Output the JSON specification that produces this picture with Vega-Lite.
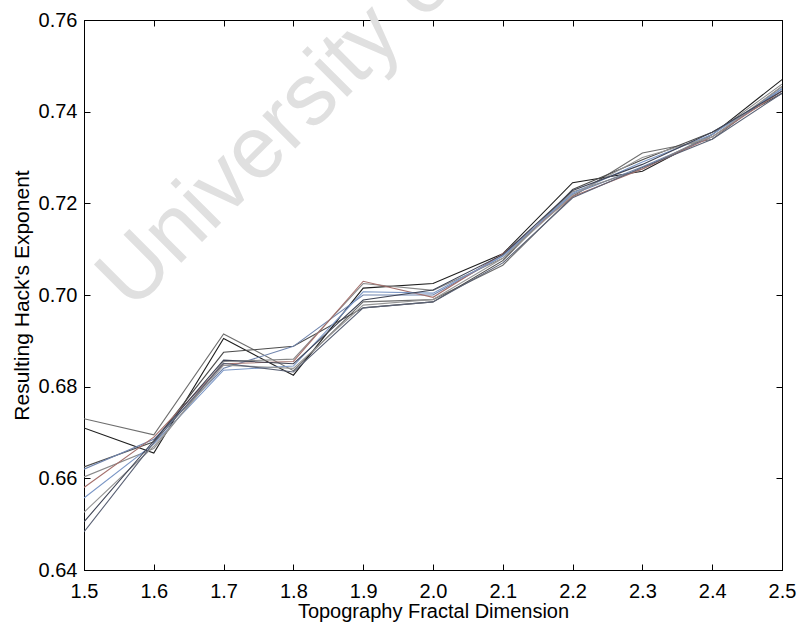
{
  "$schema": "https://vega.github.io/schema/vega-lite/v6.json",
  "width": 698,
  "height": 550,
  "autosize": "none",
  "padding": {"left": 84, "top": 20, "right": 16, "bottom": 59},
  "background": "white",
  "config": {
    "view": {"stroke": "black", "strokeWidth": 1},
    "font": "Liberation Sans",
    "axis": {
      "domainColor": "black",
      "tickColor": "black",
      "labelColor": "black",
      "titleColor": "black",
      "grid": false,
      "labelFont": "Liberation Sans",
      "titleFont": "Liberation Sans",
      "labelFontSize": 20,
      "titleFontWeight": "normal",
      "labelFlush": false,
      "tickSize": -6
    }
  },
  "datasets": {
    "runs": [
      {"run": "r1", "d": 1.5, "h": 0.673}, {"run": "r1", "d": 1.6, "h": 0.6695}, {"run": "r1", "d": 1.7, "h": 0.6915}, {"run": "r1", "d": 1.8, "h": 0.6835}, {"run": "r1", "d": 1.9, "h": 0.6985}, {"run": "r1", "d": 2.0, "h": 0.699}, {"run": "r1", "d": 2.1, "h": 0.7065}, {"run": "r1", "d": 2.2, "h": 0.7215}, {"run": "r1", "d": 2.3, "h": 0.731}, {"run": "r1", "d": 2.4, "h": 0.734}, {"run": "r1", "d": 2.5, "h": 0.7455},
      {"run": "r2", "d": 1.5, "h": 0.671}, {"run": "r2", "d": 1.6, "h": 0.6655}, {"run": "r2", "d": 1.7, "h": 0.6905}, {"run": "r2", "d": 1.8, "h": 0.6825}, {"run": "r2", "d": 1.9, "h": 0.7015}, {"run": "r2", "d": 2.0, "h": 0.7025}, {"run": "r2", "d": 2.1, "h": 0.709}, {"run": "r2", "d": 2.2, "h": 0.7245}, {"run": "r2", "d": 2.3, "h": 0.727}, {"run": "r2", "d": 2.4, "h": 0.735}, {"run": "r2", "d": 2.5, "h": 0.747},
      {"run": "r3", "d": 1.5, "h": 0.6625}, {"run": "r3", "d": 1.6, "h": 0.668}, {"run": "r3", "d": 1.7, "h": 0.6875}, {"run": "r3", "d": 1.8, "h": 0.6888}, {"run": "r3", "d": 1.9, "h": 0.6972}, {"run": "r3", "d": 2.0, "h": 0.6985}, {"run": "r3", "d": 2.1, "h": 0.7075}, {"run": "r3", "d": 2.2, "h": 0.723}, {"run": "r3", "d": 2.3, "h": 0.7295}, {"run": "r3", "d": 2.4, "h": 0.7355}, {"run": "r3", "d": 2.5, "h": 0.744},
      {"run": "r4", "d": 1.5, "h": 0.662}, {"run": "r4", "d": 1.6, "h": 0.6685}, {"run": "r4", "d": 1.7, "h": 0.684}, {"run": "r4", "d": 1.8, "h": 0.6888}, {"run": "r4", "d": 1.9, "h": 0.7}, {"run": "r4", "d": 2.0, "h": 0.7}, {"run": "r4", "d": 2.1, "h": 0.7085}, {"run": "r4", "d": 2.2, "h": 0.722}, {"run": "r4", "d": 2.3, "h": 0.728}, {"run": "r4", "d": 2.4, "h": 0.7345}, {"run": "r4", "d": 2.5, "h": 0.745},
      {"run": "r5", "d": 1.5, "h": 0.6603}, {"run": "r5", "d": 1.6, "h": 0.6665}, {"run": "r5", "d": 1.7, "h": 0.6855}, {"run": "r5", "d": 1.8, "h": 0.686}, {"run": "r5", "d": 1.9, "h": 0.7025}, {"run": "r5", "d": 2.0, "h": 0.701}, {"run": "r5", "d": 2.1, "h": 0.708}, {"run": "r5", "d": 2.2, "h": 0.7225}, {"run": "r5", "d": 2.3, "h": 0.7275}, {"run": "r5", "d": 2.4, "h": 0.735}, {"run": "r5", "d": 2.5, "h": 0.746},
      {"run": "r6", "d": 1.5, "h": 0.658}, {"run": "r6", "d": 1.6, "h": 0.669}, {"run": "r6", "d": 1.7, "h": 0.685}, {"run": "r6", "d": 1.8, "h": 0.6855}, {"run": "r6", "d": 1.9, "h": 0.703}, {"run": "r6", "d": 2.0, "h": 0.6995}, {"run": "r6", "d": 2.1, "h": 0.709}, {"run": "r6", "d": 2.2, "h": 0.7215}, {"run": "r6", "d": 2.3, "h": 0.7275}, {"run": "r6", "d": 2.4, "h": 0.7345}, {"run": "r6", "d": 2.5, "h": 0.7445},
      {"run": "r7", "d": 1.5, "h": 0.6557}, {"run": "r7", "d": 1.6, "h": 0.6675}, {"run": "r7", "d": 1.7, "h": 0.6836}, {"run": "r7", "d": 1.8, "h": 0.6845}, {"run": "r7", "d": 1.9, "h": 0.7007}, {"run": "r7", "d": 2.0, "h": 0.7004}, {"run": "r7", "d": 2.1, "h": 0.7085}, {"run": "r7", "d": 2.2, "h": 0.7222}, {"run": "r7", "d": 2.3, "h": 0.729}, {"run": "r7", "d": 2.4, "h": 0.735}, {"run": "r7", "d": 2.5, "h": 0.745},
      {"run": "r8", "d": 1.5, "h": 0.6526}, {"run": "r8", "d": 1.6, "h": 0.667}, {"run": "r8", "d": 1.7, "h": 0.6847}, {"run": "r8", "d": 1.8, "h": 0.684}, {"run": "r8", "d": 1.9, "h": 0.6978}, {"run": "r8", "d": 2.0, "h": 0.699}, {"run": "r8", "d": 2.1, "h": 0.708}, {"run": "r8", "d": 2.2, "h": 0.7218}, {"run": "r8", "d": 2.3, "h": 0.73}, {"run": "r8", "d": 2.4, "h": 0.7345}, {"run": "r8", "d": 2.5, "h": 0.7455},
      {"run": "r9", "d": 1.5, "h": 0.6505}, {"run": "r9", "d": 1.6, "h": 0.6682}, {"run": "r9", "d": 1.7, "h": 0.6858}, {"run": "r9", "d": 1.8, "h": 0.685}, {"run": "r9", "d": 1.9, "h": 0.6989}, {"run": "r9", "d": 2.0, "h": 0.7011}, {"run": "r9", "d": 2.1, "h": 0.7088}, {"run": "r9", "d": 2.2, "h": 0.7228}, {"run": "r9", "d": 2.3, "h": 0.7285}, {"run": "r9", "d": 2.4, "h": 0.7355}, {"run": "r9", "d": 2.5, "h": 0.7445},
      {"run": "r10", "d": 1.5, "h": 0.6483}, {"run": "r10", "d": 1.6, "h": 0.6678}, {"run": "r10", "d": 1.7, "h": 0.6851}, {"run": "r10", "d": 1.8, "h": 0.6832}, {"run": "r10", "d": 1.9, "h": 0.6972}, {"run": "r10", "d": 2.0, "h": 0.6985}, {"run": "r10", "d": 2.1, "h": 0.707}, {"run": "r10", "d": 2.2, "h": 0.7212}, {"run": "r10", "d": 2.3, "h": 0.7278}, {"run": "r10", "d": 2.4, "h": 0.734}, {"run": "r10", "d": 2.5, "h": 0.744}
    ],
    "mark": [
      {"label": "University of Cape Town", "d": 1.5688, "h": 0.6963}
    ]
  },
  "layer": [
    {
      "data": {"name": "mark"},
      "mark": {"type": "text", "align": "left", "baseline": "alphabetic", "angle": -45, "fontSize": 88, "font": "Liberation Sans", "color": "#e0e0e0"},
      "encoding": {
        "x": {"field": "d", "type": "quantitative", "scale": {"domain": [1.5, 2.5], "nice": false, "zero": false}, "axis": null},
        "y": {"field": "h", "type": "quantitative", "scale": {"domain": [0.64, 0.76], "nice": false, "zero": false}, "axis": null},
        "text": {"field": "label"}
      }
    },
    {
      "data": {"name": "runs"},
      "mark": {"type": "line", "strokeWidth": 1.1, "clip": true},
      "encoding": {
        "x": {"field": "d", "type": "quantitative", "scale": {"domain": [1.5, 2.5], "nice": false, "zero": false},
          "axis": {"orient": "bottom", "title": "Topography Fractal Dimension", "titleFontSize": 20, "values": [1.5, 1.6, 1.7, 1.8, 1.9, 2.0, 2.1, 2.2, 2.3, 2.4, 2.5], "format": ".1f", "labelPadding": 17, "titlePadding": 0}},
        "y": {"field": "h", "type": "quantitative", "scale": {"domain": [0.64, 0.76], "nice": false, "zero": false},
          "axis": {"orient": "left", "title": "Resulting Hack's Exponent", "titleFontSize": 21, "values": [0.64, 0.66, 0.68, 0.7, 0.72, 0.74, 0.76], "format": ".2f", "labelPadding": 13, "titlePadding": 6}},
        "color": {"field": "run", "type": "nominal", "legend": null,
          "scale": {"domain": ["r1", "r2", "r3", "r4", "r5", "r6", "r7", "r8", "r9", "r10"],
            "range": ["#6e6e6e", "#1e1e1e", "#4c4c4c", "#6f84ad", "#888888", "#a5706c", "#7b97c6", "#969696", "#3f4455", "#5b6275"]}}
      }
    },
    {
      "data": {"name": "runs"},
      "mark": {"type": "line", "opacity": 0},
      "encoding": {
        "x": {"field": "d", "type": "quantitative", "scale": {"domain": [1.5, 2.5], "nice": false, "zero": false},
          "axis": {"orient": "top", "title": null, "labels": false, "values": [1.5, 1.6, 1.7, 1.8, 1.9, 2.0, 2.1, 2.2, 2.3, 2.4, 2.5]}},
        "y": {"field": "h", "type": "quantitative", "scale": {"domain": [0.64, 0.76], "nice": false, "zero": false},
          "axis": {"orient": "right", "title": null, "labels": false, "values": [0.64, 0.66, 0.68, 0.7, 0.72, 0.74, 0.76]}},
        "detail": {"field": "run"}
      }
    }
  ],
  "resolve": {"axis": {"x": "independent", "y": "independent"}}
}
